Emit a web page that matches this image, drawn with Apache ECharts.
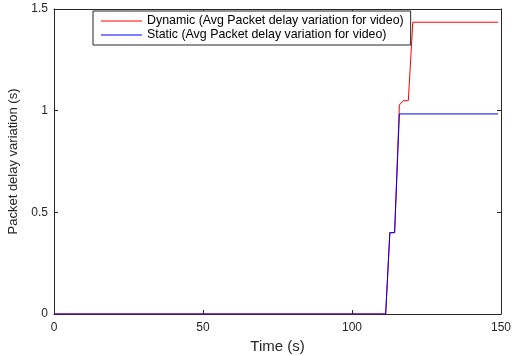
<!DOCTYPE html>
<html>
<head>
<meta charset="utf-8">
<script src="https://cdn.jsdelivr.net/npm/echarts@6/dist/echarts.min.js"></script>
<style>
  html, body { margin: 0; padding: 0; background: #fff; }
  #chart { width: 512px; height: 356px; }
</style>
</head>
<body>
<div id="chart"></div>
<script>
// values
var timeDynamic = [0, 111.3, 112.7, 114.3, 115.9, 117.2, 118.9, 120.4, 149];
var delayDynamic = [0, 0, 0.4, 0.4, 1.028, 1.049, 1.049, 1.435, 1.435];
var timeStatic = [0, 111.3, 112.7, 114.3, 115.9, 149];
var delayStatic = [0, 0, 0.4, 0.4, 0.984, 0.984];
var xTicks = [0, 50, 100, 150];
var yTicks = [0, 0.5, 1, 1.5];
var seriesNames = ['Dynamic (Avg Packet delay variation for video)', 'Static (Avg Packet delay variation for video)'];

function pairs(xs, ys) {
    return xs.map(function (x, i) { return [x, ys[i]]; });
}

var myChart = echarts.init(document.getElementById('chart'));
var font = 'Liberation Sans, Arial, sans-serif';
var axisLine = { show: true, onZero: false, lineStyle: { color: '#262626', width: 1 } };
var tick = { inside: true, length: 4, lineStyle: { color: '#262626' } };

var option = {
    animation: false,
    textStyle: { fontFamily: font },
    grid: { left: 54, right: 11, top: 9, bottom: 42, show: false, outerBoundsMode: 'none', containLabel: false },
    legend: {
        orient: 'vertical',
        left: 93,
        top: 11,
        width: 314,
        padding: [4, 7, 4, 8],
        itemGap: 2,
        itemWidth: 41,
        itemHeight: 11,
        icon: 'path://M0,5 L41,5 L41,6 L0,6 Z',
        backgroundColor: '#fff',
        borderColor: '#262626',
        borderWidth: 1,
        textStyle: { fontSize: 12.4, color: '#000', fontFamily: font },
        data: seriesNames
    },
    xAxis: [{
        type: 'value',
        min: 0, max: 150, interval: 50,
        name: 'Time (s)',
        nameLocation: 'middle',
        nameGap: 23,
        nameTextStyle: { fontSize: 15, color: '#262626' },
        axisLine: axisLine,
        axisTick: tick,
        axisLabel: { fontSize: 12, color: '#262626', margin: 8,
            formatter: function (v) { return xTicks.indexOf(v) >= 0 ? String(v) : ''; } },
        splitLine: { show: false }
    }, {
        type: 'value', position: 'top',
        min: 0, max: 150, interval: 50,
        axisLine: axisLine,
        axisTick: tick,
        axisLabel: { show: false },
        splitLine: { show: false }
    }],
    yAxis: [{
        type: 'value',
        min: 0, max: 1.5, interval: 0.5,
        name: 'Packet delay variation (s)',
        nameLocation: 'middle',
        nameGap: 27,
        nameTextStyle: { fontSize: 13, color: '#262626' },
        axisLine: axisLine,
        axisTick: tick,
        axisLabel: { fontSize: 12, color: '#262626', margin: 6,
            formatter: function (v) { return yTicks.indexOf(v) >= 0 ? String(v) : ''; } },
        splitLine: { show: false }
    }, {
        type: 'value', position: 'right',
        min: 0, max: 1.5, interval: 0.5,
        axisLine: axisLine,
        axisTick: tick,
        axisLabel: { show: false },
        splitLine: { show: false }
    }],
    series: [{
        name: seriesNames[0],
        type: 'line',
        showSymbol: false,
        color: '#ff0000',
        lineStyle: { width: 1, color: '#ff0000' },
        data: pairs(timeDynamic, delayDynamic)
    }, {
        name: seriesNames[1],
        type: 'line',
        showSymbol: false,
        color: '#0000ff',
        lineStyle: { width: 1, color: '#0000ff' },
        data: pairs(timeStatic, delayStatic)
    }]
};

myChart.setOption(option);
</script>
</body>
</html>
